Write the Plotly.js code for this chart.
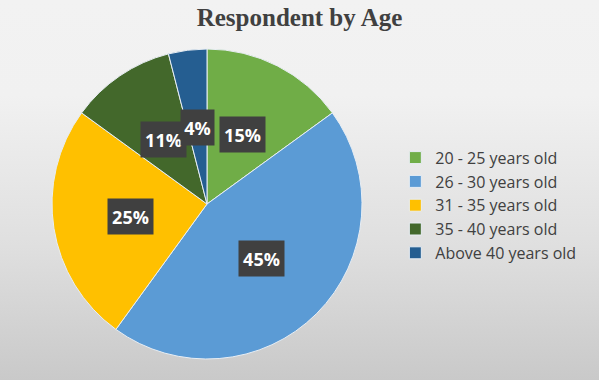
<!DOCTYPE html>
<html>
<head>
<meta charset="utf-8">
<script src="https://cdn.plot.ly/plotly-3.0.1.min.js"></script>
<style>
html,body{margin:0;padding:0;}
#chart{width:599px;height:380px;background:linear-gradient(to bottom,#f2f2f2 0%,#f1f1f1 25%,#dfdfdf 65%,#c9c9c9 100%);}
</style>
</head>
<body>
<div id="chart"></div>
<script>
const categories = ["20 - 25 years old","26 - 30 years old","31 - 35 years old","35 - 40 years old","Above 40 years old"];
const values = [15, 45, 25, 11, 4];
const colors = ["#70AD47","#5B9BD5","#FFC000","#43682B","#255E91"];

const W = 599, H = 380;
const cxPx = 207, cyPx = 204, rPx = 155;
const domX = [(cxPx - rPx) / W, (cxPx + rPx) / W];
const domY = [(H - cyPx - rPx) / H, (H - cyPx + rPx) / H];

const total = values.reduce((a, b) => a + b, 0);
const annotations = [];
let cum = 0;
values.forEach((v, i) => {
  const mid = (cum + v / 2) / total * 2 * Math.PI;
  cum += v;
  const d = rPx * 0.5;
  const label = Math.round(v / total * 100) + "%";
  annotations.push({
    xref: "paper", yref: "paper",
    x: (cxPx + d * Math.sin(mid)) / W,
    y: (H - cyPx + d * Math.cos(mid)) / H,
    text: "<b>" + label + "</b>",
    showarrow: false,
    font: {family: "Open Sans, sans-serif", size: 18, color: "#ffffff"},
    bgcolor: "#404040",
    borderpad: 0,
    width: label.length * 12 + 9,
    height: 35,
    xanchor: "center", yanchor: "middle"
  });
});

const data = [{
  type: "pie",
  labels: categories,
  values: values,
  sort: false,
  direction: "clockwise",
  rotation: 0,
  marker: {colors: colors, line: {color: "#e8eef4", width: 1}},
  textinfo: "none",
  hoverinfo: "label+percent",
  domain: {x: domX, y: domY}
}];

const layout = {
  width: W, height: H,
  margin: {l: 0, r: 0, t: 0, b: 0},
  paper_bgcolor: "rgba(0,0,0,0)",
  plot_bgcolor: "rgba(0,0,0,0)",
  title: {
    text: "<b>Respondent by Age</b>",
    font: {family: "Liberation Serif, Times New Roman, serif", size: 25, color: "#404040"},
    x: 0.5, xanchor: "center", y: 0.955, yanchor: "middle", yref: "container"
  },
  showlegend: true,
  legend: {
    x: 0.66, xanchor: "left", y: 0.46, yanchor: "middle",
    font: {family: "Open Sans, sans-serif", size: 16, color: "#404040"},
    bgcolor: "rgba(0,0,0,0)",
    itemclick: false
  },
  annotations: annotations
};

Plotly.newPlot("chart", data, layout, {displayModeBar: false, staticPlot: true});
</script>
</body>
</html>
